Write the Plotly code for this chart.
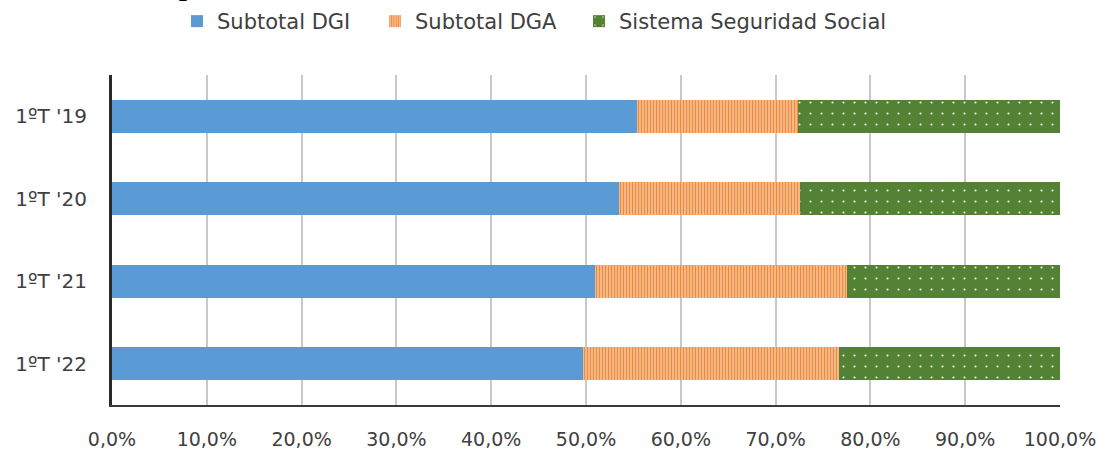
import plotly.graph_objects as go

categories = ["1ºT '19", "1ºT '20", "1ºT '21", "1ºT '22"]
dgi = [55.4, 53.5, 51.0, 49.7]
dga = [17.0, 19.1, 26.5, 27.0]
sss = [27.6, 27.4, 22.5, 23.3]
series_names = ["Subtotal DGI", "Subtotal DGA", "Sistema Seguridad Social"]
x_ticks = [0, 10, 20, 30, 40, 50, 60, 70, 80, 90, 100]
x_tick_labels = ["0,0%", "10,0%", "20,0%", "30,0%", "40,0%", "50,0%",
                 "60,0%", "70,0%", "80,0%", "90,0%", "100,0%"]

W, H = 1099, 450
L, R, T, B = 112, 39, 75, 45
PW = W - L - R
PH = H - T - B

fig = go.Figure()
fig.add_trace(go.Bar(
    y=categories, x=dgi, name=series_names[0], orientation="h", legend="legend",
    marker=dict(color="#5B9BD5", line=dict(width=0)), width=0.4,
))
fig.add_trace(go.Bar(
    y=categories, x=dga, name=series_names[1], orientation="h", legend="legend2",
    marker=dict(color="#FDE6D2", line=dict(width=0),
                pattern=dict(shape="|", fgcolor="#F28A3C", bgcolor="#FDE6D2",
                             size=3, solidity=0.67, fillmode="replace")),
    width=0.4,
))
fig.add_trace(go.Bar(
    y=categories, x=sss, name=series_names[2], orientation="h", legend="legend3",
    marker=dict(color="#548235", line=dict(width=0),
                pattern=dict(shape=".", fgcolor="#EEF2EA", bgcolor="#548235",
                             size=11, solidity=0.03, fillmode="replace")),
    width=0.4,
))


def legend_at(px_left):
    return dict(
        orientation="h", x=(px_left - L) / PW, xanchor="left",
        yref="paper", y=1 + 74 / PH, yanchor="top",
        font=dict(size=21, color="#404040"),
        bgcolor="rgba(0,0,0,0)",
    )


fig.update_layout(
    width=W, height=H,
    margin=dict(l=L, r=R, t=T, b=B, autoexpand=False),
    barmode="stack",
    plot_bgcolor="white", paper_bgcolor="white",
    font=dict(family="DejaVu Sans", color="#404040", size=19),
    showlegend=True,
    legend=legend_at(177),
    legend2=legend_at(375),
    legend3=legend_at(579),
    xaxis=dict(
        range=[0, 100], tickmode="array", tickvals=x_ticks, ticktext=x_tick_labels,
        showgrid=True, gridcolor="#C9C9C9", gridwidth=2,
        showline=True, linecolor="#3A3A3A", linewidth=2,
        zeroline=False, ticks="", ticklabelstandoff=16,
        tickfont=dict(size=19, color="#404040"),
    ),
    yaxis=dict(
        categoryorder="array", categoryarray=categories,
        autorange="reversed",
        showgrid=False, showline=True, linecolor="#2A2A2A", linewidth=3,
        zeroline=False, ticks="", ticklabelstandoff=18,
        tickfont=dict(size=20, color="#404040"),
    ),
    bargap=0.6,
)

# cut-off title fragment at top edge of the original image
fig.add_annotation(
    text="<b>p</b>", xref="paper", yref="paper",
    x=(187 - L) / PW, xanchor="center",
    y=1 + (T + 15) / PH, yanchor="middle",
    showarrow=False, font=dict(family="Liberation Serif", size=28, color="#000000"),
)

fig.write_html("out.html", config={"displayModeBar": False},
               post_script="document.body.style.margin='0';")
